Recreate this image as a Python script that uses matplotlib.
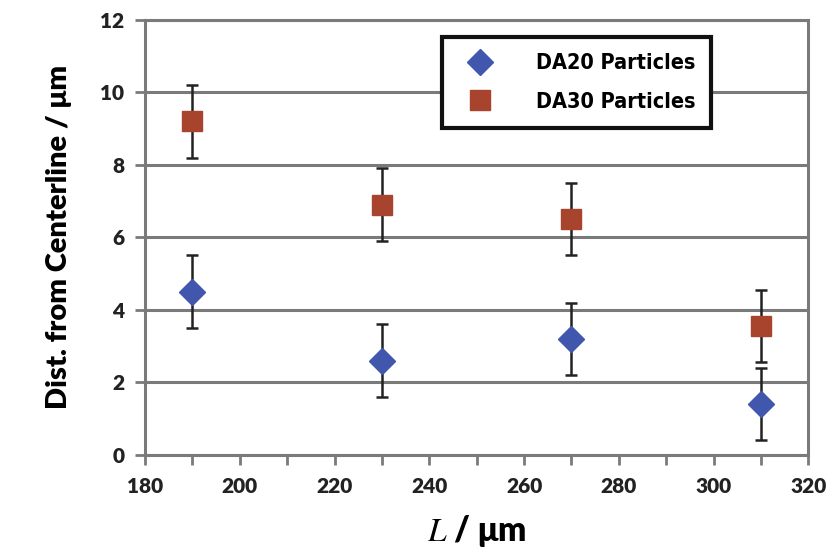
import numpy as np
import matplotlib.pyplot as plt
from matplotlib.lines import Line2D

L = [190, 230, 270, 310]
da20 = [4.5, 2.6, 3.2, 1.4]
da30 = [9.2, 6.9, 6.5, 3.55]
da20_err = [1.0, 1.0, 1.0, 1.0]
da30_err = [1.0, 1.0, 1.0, 1.0]

plt.rcParams['font.family'] = ['Lato', 'DejaVu Sans']
plt.rcParams['mathtext.fontset'] = 'stix'

blue = '#4157ad'
red = '#a8432e'
grid_c = '#7a7a7a'

fig = plt.figure(figsize=(8.29, 5.52), dpi=100)
ax = fig.add_axes([0.175, 0.176, 0.800, 0.788])

ax.errorbar(L, da20, yerr=da20_err, fmt='D', color=blue, markersize=13,
            ecolor='#222222', elinewidth=1.8, capsize=4, capthick=1.8, zorder=3)
ax.errorbar(L, da30, yerr=da30_err, fmt='s', color=red, markersize=15,
            ecolor='#222222', elinewidth=1.8, capsize=4, capthick=1.8, zorder=3)

ax.set_xlim(180, 320)
ax.set_ylim(0, 12)
ax.set_xticks(np.arange(180, 321, 20))
ax.set_xticks(np.arange(180, 321, 10), minor=True)
ax.set_yticks(np.arange(0, 13, 2))
ax.yaxis.grid(True, color=grid_c, linewidth=2.2)
ax.set_axisbelow(True)
for s in ax.spines.values():
    s.set_color(grid_c)
    s.set_linewidth(2.2)
ax.tick_params(axis='x', which='both', direction='out', length=7, width=2, color=grid_c, pad=9)
ax.tick_params(axis='y', direction='out', length=7, width=2, color=grid_c, pad=8)
for lab in ax.get_xticklabels() + ax.get_yticklabels():
    lab.set_fontweight('heavy')
    lab.set_fontsize(15)
    lab.set_color('#222222')

ax.set_ylabel('Dist. from Centerline / μm', fontsize=21, fontweight='heavy', labelpad=20)
ax.set_xlabel(r'$\mathit{L}$ / μm', fontsize=24, fontweight='heavy', labelpad=12)

handles = [Line2D([], [], marker='D', color=blue, linestyle='none', markersize=13),
           Line2D([], [], marker='s', color=red, linestyle='none', markersize=15)]
leg = ax.legend(handles, ['DA20 Particles', 'DA30 Particles'], loc='upper right',
                bbox_to_anchor=(0.870, 0.985), fancybox=False,
                edgecolor='#111111', framealpha=1, borderpad=0.75, labelspacing=0.85,
                handletextpad=1.6,
                prop={'family': ['Liberation Sans Narrow', 'DejaVu Sans'],
                      'weight': 'bold', 'stretch': 'condensed', 'size': 15.5})
leg.get_frame().set_linewidth(3)

fig.savefig('out.png', dpi=100)
